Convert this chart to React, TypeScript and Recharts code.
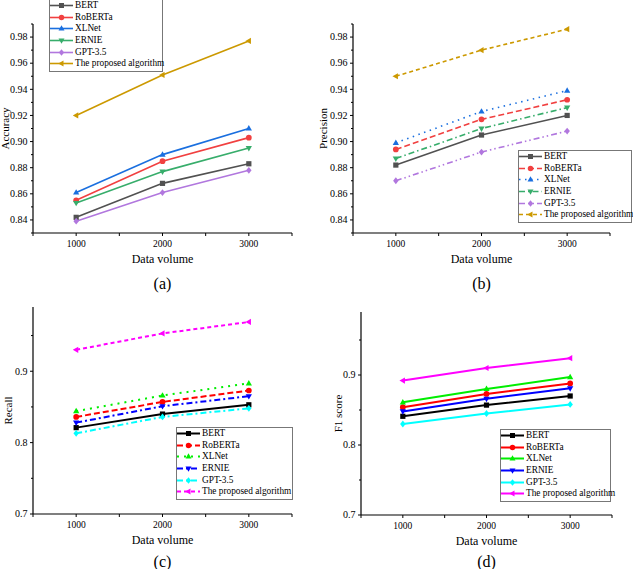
import React from 'react';
import { LineChart, Line, XAxis, YAxis, Legend } from 'recharts';

// ---------- data ----------
const dataVolumes = [1000, 2000, 3000];
const modelNames = ['BERT', 'RoBERTa', 'XLNet', 'ERNIE', 'GPT-3.5', 'The proposed algorithm'];

const accuracyBERT = [0.842, 0.868, 0.883];
const accuracyRoBERTa = [0.855, 0.885, 0.903];
const accuracyXLNet = [0.861, 0.89, 0.91];
const accuracyERNIE = [0.853, 0.877, 0.895];
const accuracyGPT = [0.839, 0.861, 0.878];
const accuracyProposed = [0.92, 0.951, 0.977];

const precisionBERT = [0.882, 0.905, 0.92];
const precisionRoBERTa = [0.894, 0.917, 0.932];
const precisionXLNet = [0.899, 0.923, 0.939];
const precisionERNIE = [0.887, 0.91, 0.926];
const precisionGPT = [0.87, 0.892, 0.908];
const precisionProposed = [0.95, 0.97, 0.986];

const recallBERT = [0.821, 0.84, 0.853];
const recallRoBERTa = [0.836, 0.857, 0.873];
const recallXLNet = [0.844, 0.866, 0.883];
const recallERNIE = [0.828, 0.851, 0.865];
const recallGPT = [0.813, 0.836, 0.848];
const recallProposed = [0.93, 0.953, 0.969];

const f1BERT = [0.841, 0.857, 0.87];
const f1RoBERTa = [0.854, 0.873, 0.888];
const f1XLNet = [0.861, 0.88, 0.897];
const f1ERNIE = [0.848, 0.866, 0.881];
const f1GPT = [0.83, 0.845, 0.858];
const f1Proposed = [0.892, 0.91, 0.924];

const xTicks = [500, 1000, 1500, 2000, 2500, 3000, 3500];
const xTickLabels = [1000, 2000, 3000];
const yTicksFine = [0.83, 0.84, 0.85, 0.86, 0.87, 0.88, 0.89, 0.9, 0.91, 0.92, 0.93, 0.94, 0.95, 0.96, 0.97, 0.98, 0.99];
const yTickLabelsFine = [0.84, 0.86, 0.88, 0.9, 0.92, 0.94, 0.96, 0.98];
const yTicksCoarse = [0.7, 0.75, 0.8, 0.85, 0.9, 0.95];
const yTickLabelsCoarse = [0.7, 0.8, 0.9];

const buildRows = (series: number[][]) =>
  dataVolumes.map((v, i) => {
    const row: Record<string, number> = { volume: v };
    modelNames.forEach((n, k) => {
      row[n] = series[k][i];
    });
    return row;
  });

const accuracyRows = buildRows([accuracyBERT, accuracyRoBERTa, accuracyXLNet, accuracyERNIE, accuracyGPT, accuracyProposed]);
const precisionRows = buildRows([precisionBERT, precisionRoBERTa, precisionXLNet, precisionERNIE, precisionGPT, precisionProposed]);
const recallRows = buildRows([recallBERT, recallRoBERTa, recallXLNet, recallERNIE, recallGPT, recallProposed]);
const f1Rows = buildRows([f1BERT, f1RoBERTa, f1XLNet, f1ERNIE, f1GPT, f1Proposed]);

// ---------- styles ----------
const FONT = '"Liberation Serif", "Times New Roman", serif';
const shapes = ['square', 'circle', 'triangle', 'triangleDown', 'diamond', 'triangleLeft'];
const brightColors = ['#515151', '#F14040', '#1A6FDF', '#37AD6B', '#B177DE', '#CC9900'];
const vividColors = ['#000000', '#FF0000', '#00EE00', '#0000FF', '#00FFFF', '#FF00FF'];
const solidDashes = [undefined, undefined, undefined, undefined, undefined, undefined];
const dashesB = [undefined, '6 3', '1.5 4.5', '6 3 1.5 3', '6 3 1.5 3 1.5 3', '4 3'];
const dashesC = [undefined, '6 3', '2 5', '6 3 2 3', '6 3 2 3', '4 3'];

function Marker({ cx, cy, shape, color, r }: { cx: number; cy: number; shape: string; color: string; r: number }) {
  if (cx == null || cy == null) return null;
  switch (shape) {
    case 'square':
      return <rect x={cx - r} y={cy - r} width={2 * r} height={2 * r} fill={color} />;
    case 'circle':
      return <circle cx={cx} cy={cy} r={r * 1.1} fill={color} />;
    case 'triangle':
      return <path d={`M${cx},${cy - 1.3 * r}L${cx + 1.2 * r},${cy + 0.8 * r}L${cx - 1.2 * r},${cy + 0.8 * r}Z`} fill={color} />;
    case 'triangleDown':
      return <path d={`M${cx},${cy + 1.3 * r}L${cx + 1.2 * r},${cy - 0.8 * r}L${cx - 1.2 * r},${cy - 0.8 * r}Z`} fill={color} />;
    case 'diamond':
      return <path d={`M${cx},${cy - 1.3 * r}L${cx + 1.05 * r},${cy}L${cx},${cy + 1.3 * r}L${cx - 1.05 * r},${cy}Z`} fill={color} />;
    default:
      return <path d={`M${cx - 1.3 * r},${cy}L${cx + 0.8 * r},${cy - 1.2 * r}L${cx + 0.8 * r},${cy + 1.2 * r}Z`} fill={color} />;
  }
}

type Panel = {
  key: string;
  left: number;
  top: number;
  width: number;
  height: number;
  plotLeft: number;
  margin: { top: number; right: number; left: number; bottom: number };
  rows: Record<string, number>[];
  yDomain: [number, number];
  yTicks: number[];
  yLabels: number[];
  digits: number;
  yTitle: string;
  yTitleOffset: number;
  caption: string;
  captionDy: number;
  colors: string[];
  dashes: (string | undefined)[];
  strokeWidth: number;
  legendLeft: number;
  legendTop: number;
  legendWidth: number;
};

const panels: Panel[] = [
  {
    key: 'a', left: 0, top: 0, width: 316, height: 300, plotLeft: 33,
    margin: { top: 24, right: 24, left: 0, bottom: 37 },
    rows: accuracyRows, yDomain: [0.83, 0.99], yTicks: yTicksFine, yLabels: yTickLabelsFine, digits: 2,
    yTitle: 'Accuracy', yTitleOffset: 28, caption: '(a)', captionDy: 50,
    colors: brightColors, dashes: solidDashes, strokeWidth: 1.6,
    legendLeft: 49, legendTop: -1, legendWidth: 114,
  },
  {
    key: 'b', left: 316, top: 0, width: 317, height: 300, plotLeft: 37,
    margin: { top: 24, right: 23, left: 4, bottom: 37 },
    rows: precisionRows, yDomain: [0.83, 0.99], yTicks: yTicksFine, yLabels: yTickLabelsFine, digits: 2,
    yTitle: 'Precision', yTitleOffset: 30, caption: '(b)', captionDy: 50,
    colors: brightColors, dashes: dashesB, strokeWidth: 1.6,
    legendLeft: 202, legendTop: 150, legendWidth: 114,
  },
  {
    key: 'c', left: 0, top: 290, width: 316, height: 279, plotLeft: 33,
    margin: { top: 17, right: 24, left: 0, bottom: 25 },
    rows: recallRows, yDomain: [0.7, 0.99], yTicks: yTicksCoarse, yLabels: yTickLabelsCoarse, digits: 1,
    yTitle: 'Recall', yTitleOffset: 25, caption: '(c)', captionDy: 47,
    colors: vividColors, dashes: dashesC, strokeWidth: 2,
    legendLeft: 176, legendTop: 137, legendWidth: 117,
  },
  {
    key: 'd', left: 316, top: 290, width: 317, height: 279, plotLeft: 45,
    margin: { top: 22, right: 21, left: 12, bottom: 24 },
    rows: f1Rows, yDomain: [0.7, 0.99], yTicks: yTicksCoarse, yLabels: yTickLabelsCoarse, digits: 1,
    yTitle: 'F1 score', yTitleOffset: 23, caption: '(d)', captionDy: 46,
    colors: vividColors, dashes: solidDashes, strokeWidth: 2,
    legendLeft: 184, legendTop: 139, legendWidth: 111,
  },
];

function XTick(props: any) {
  const { x, y, payload } = props;
  const v = payload.value;
  const labeled = xTickLabels.includes(v);
  return (
    <g>
      <line x1={x} y1={y} x2={x} y2={y + 3} stroke="#000" strokeWidth={1} />
      {labeled && (
        <text x={x} y={y + 13.5} textAnchor="middle" fontSize={9.5} fontFamily={FONT} fill="#000">
          {v}
        </text>
      )}
    </g>
  );
}

function makeYTick(panel: Panel) {
  return (props: any) => {
    const { x, y, payload } = props;
    const v = payload.value;
    const labeled = panel.yLabels.some((l) => Math.abs(l - v) < 1e-6);
    return (
      <g>
        <line x1={x} y1={y} x2={x - (labeled ? 3 : 2)} y2={y} stroke="#000" strokeWidth={1} />
        {labeled && (
          <text x={x - 5.5} y={y + 3.3} textAnchor="end" fontSize={10} fontFamily={FONT} fill="#000">
            {v.toFixed(panel.digits)}
          </text>
        )}
      </g>
    );
  };
}

function makeLegend(panel: Panel) {
  return () => (
    <div
      style={{
        width: panel.legendWidth,
        border: '1px solid #777',
        background: '#fff',
        boxSizing: 'border-box',
        fontFamily: FONT,
        fontSize: 9.3,
        color: '#000',
        padding: '0 0 1px 0',
      }}
    >
      {modelNames.map((name, i) => (
        <div key={name} style={{ display: 'flex', alignItems: 'center', height: 11.6, whiteSpace: 'nowrap' }}>
          <svg width={23} height={11} style={{ display: 'block', flex: 'none' }}>
            <line
              x1={0}
              y1={5.5}
              x2={23}
              y2={5.5}
              stroke={panel.colors[i]}
              strokeWidth={panel.strokeWidth}
              strokeDasharray={panel.dashes[i]}
            />
            <Marker cx={11.5} cy={5.5} shape={shapes[i]} color={panel.colors[i]} r={2.5} />
          </svg>
          <span style={{ marginLeft: 2, lineHeight: '11px' }}>{name}</span>
        </div>
      ))}
    </div>
  );
}

function PanelChart({ panel }: { panel: Panel }) {
  const yTitle = (props: any) => {
    const vb = props.viewBox || {};
    const cx = panel.plotLeft - panel.yTitleOffset;
    const cy = (vb.y ?? 0) + (vb.height ?? 0) / 2;
    return (
      <text
        x={cx}
        y={cy}
        transform={`rotate(-90, ${cx}, ${cy})`}
        textAnchor="middle"
        dominantBaseline="central"
        fontSize={11}
        fontFamily={FONT}
        fill="#000"
      >
        {panel.yTitle}
      </text>
    );
  };
  const xTitle = (props: any) => {
    const vb = props.viewBox || {};
    const cx = (vb.x ?? 0) + (vb.width ?? 0) / 2;
    const top = vb.y ?? 0;
    return (
      <g>
        <text x={cx} y={top + 30} textAnchor="middle" fontSize={12} fontFamily={FONT} fill="#000">
          Data volume
        </text>
        <text x={cx} y={top + panel.captionDy + 6} textAnchor="middle" fontSize={16} fontFamily={FONT} fill="#000">
          {panel.caption}
        </text>
      </g>
    );
  };

  return (
    <div style={{ position: 'absolute', left: panel.left, top: panel.top }}>
      <LineChart width={panel.width} height={panel.height} data={panel.rows} margin={panel.margin}>
        <XAxis
          dataKey="volume"
          type="number"
          domain={[500, 3500]}
          ticks={xTicks}
          interval={0}
          height={30}
          tickSize={0}
          tickMargin={0}
          tickLine={false}
          axisLine={{ stroke: '#000', strokeWidth: 1.2 }}
          tick={XTick}
          label={xTitle}
        />
        <YAxis
          type="number"
          domain={panel.yDomain}
          ticks={panel.yTicks}
          interval={0}
          width={33}
          allowDataOverflow
          tickSize={0}
          tickMargin={0}
          tickLine={false}
          axisLine={{ stroke: '#000', strokeWidth: 1.2 }}
          tick={makeYTick(panel)}
          label={yTitle}
        />
        {modelNames.map((name, i) => (
          <Line
            key={name}
            type="linear"
            dataKey={name}
            stroke={panel.colors[i]}
            strokeWidth={panel.strokeWidth}
            strokeDasharray={panel.dashes[i]}
            isAnimationActive={false}
            activeDot={false}
            dot={(p: any) => (
              <Marker key={`${name}-${p.index}`} cx={p.cx} cy={p.cy} shape={shapes[i]} color={panel.colors[i]} r={2.6} />
            )}
          />
        ))}
        <Legend
          layout="vertical"
          align="center"
          verticalAlign="middle"
          content={makeLegend(panel)}
          wrapperStyle={{ left: panel.legendLeft, top: panel.legendTop, width: panel.legendWidth, bottom: 'auto', right: 'auto' }}
        />
      </LineChart>
    </div>
  );
}

export default function App() {
  return (
    <div style={{ position: 'absolute', left: 0, top: 0, width: 633, height: 569, background: '#fff', overflow: 'hidden' }}>
      {panels.map((p) => (
        <PanelChart key={p.key} panel={p} />
      ))}
    </div>
  );
}
